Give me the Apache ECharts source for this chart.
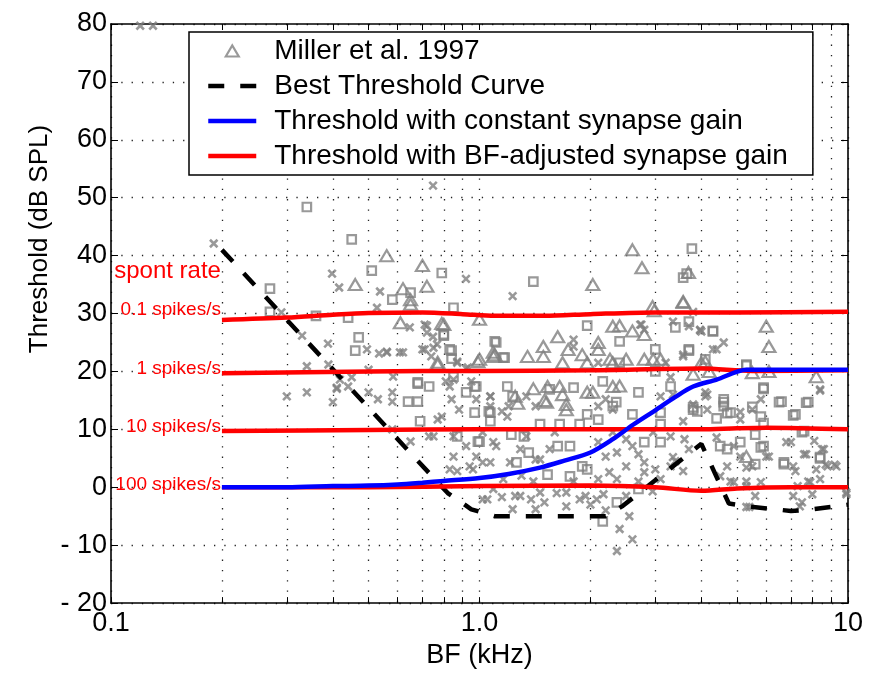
<!DOCTYPE html>
<html><head><meta charset="utf-8">
<script src="https://cdn.jsdelivr.net/npm/echarts@6/dist/echarts.min.js"></script>
<style>html,body{margin:0;padding:0;background:#fff}#c{width:874px;height:674px}</style>
</head><body><div id="c"></div>
<script>
// ---- data ----
const xTicks = [0.1,0.2,0.3,0.4,0.5,0.6,0.7,0.8,0.9,1,2,3,4,5,6,7,8,9,10];
const xLabels = [0.1,1,10];
const yTicks = [-20,-10,0,10,20,30,40,50,60,70,80];

const millerTriangles = [
[0.56,40.0],[0.70,38.3],[0.46,35.0],[0.62,34.3],[0.72,34.7],[0.65,32.4],[0.65,31.6],[0.61,28.4],[0.79,28.3],[1.0,29.0],[0.77,21.6],[0.99,21.7],[1.09,23.3],
[2.6,41.0],[2.76,37.9],[2.03,35.0],[3.57,32.1],[3.69,37.1],[0.8,28.1],[2.95,31.2],[2.98,30.5],[6.0,27.8],[6.1,24.3],[2.3,27.8],[2.4,27.9],[2.6,27.0],[2.8,26.4],[1.63,26.0],[1.49,24.3],[2.1,25.0],[2.1,23.8],[1.35,22.6],[1.49,22.6],[1.74,23.8],[1.9,22.9],[1.0,22.1],[1.09,22.6],[0.77,21.2],[1.68,21.5],[1.96,21.5],[2.3,21.5],[2.5,22.1],[2.8,22.1],[2.96,22.1],[4.0,21.5],[8.2,19.1],[5.5,19.8],[6.1,20.0],[3.8,19.5],
[1.53,17.4],[1.65,17.4],[1.4,17.0],[1.96,16.4],[1.72,14.3],[2.3,17.4],[2.4,17.5],[3.57,31.9],[1.1,22.9],[2.26,22.1],[3.1,22.1],[4.2,20.0],[5.3,5.3],[4.1,21.7],
[1.27,14.5],[1.5,15.0],[1.68,16.0],[1.52,14.7],[1.25,15.7],[1.72,13.4],[2.03,16.4]
];
const millerSquares = [
[0.34,48.4],[0.45,42.8],[0.51,37.4],[0.79,37.0],[0.27,34.3],[0.58,32.4],[0.65,33.6],[0.27,30.3],[0.36,29.6],[0.44,29.3],[0.85,31.0],[0.47,25.9],[0.46,23.6],[0.80,26.4],[0.84,23.6],[0.84,22.2],[1.1,25.2],[0.68,17.9],[0.73,17.4],[0.98,17.4],
[1.4,35.5],[3.77,41.2],[3.57,36.2],[3.65,36.9],[1.96,27.9],[0.8,26.2],[1.11,25.0],[1.17,22.4],[2.4,25.2],[3.4,27.6],[3.7,28.6],[4.3,27.0],[3.7,23.6],[4.1,22.1],[5.3,21.0],[5.9,17.0],[0.97,17.4],[2.16,18.3],[2.4,21.5],[3.0,23.8],
[0.97,12.9],[1.07,12.9],[1.07,11.4],[1.0,7.9],[1.22,9.1],[1.32,8.8],[1.36,6.0],[1.26,4.3],[1.46,10.9],[1.63,7.1],[1.76,7.1],[1.76,1.9],[1.53,2.2],[1.65,10.9],[1.87,10.9],[1.9,3.6],[1.96,3.1],[1.96,12.6],[2.1,11.7],[2.3,14.0],[2.6,12.6],[2.36,-2.6],[2.16,-5.9],[2.7,-0.3],[2.8,7.8],[3.1,7.8],[3.1,10.9],[3.8,13.8],[3.9,13.1],[3.1,12.9],
[5.9,17.2],[6.5,14.7],[7.2,12.6],[7.8,14.7],[4.6,14.7],[4.8,12.9],[5.8,12.2],[3.8,13.4],[5.1,7.8],[4.5,7.1],[4.7,6.6],[5.8,6.9],[6.7,4.0],[8.4,5.2],[5.6,9.1],[7.6,9.7],
[4.3,26.9],[3.7,23.8],[5.3,21.2],[6.6,14.8],[7.7,14.6],[7.1,12.4],[4.6,15.2],[4.6,14.0],[4.7,12.8],[5.5,13.9],[5.9,11.1],[4.4,11.9],[5.9,7.1],[7.5,9.5],[8.4,5.0],[6.7,4.3],[5.6,4.0],
[0.68,18.1],[0.64,14.8],[0.68,14.8],[0.69,11.4],[0.83,23.8],[0.85,19.1],[0.92,16.4],[1.06,13.1],[0.87,8.8],[0.99,7.9],
[1.55,16.9],[1.8,17.2],[1.19,17.4],[1.23,15.7],[2.7,16.4],[3.0,20.0],[3.3,17.4],[2.35,14.7],[1.16,22.4]
];
const millerCrosses = [
[0.12,79.7],[0.13,79.7],[0.19,42.1],[0.748,52.1],[0.398,36.9],[0.416,34.5],[0.537,33.8],[0.919,36.0],[0.527,31.0],[0.647,27.6],[0.71,28.1],[0.33,26.2],[0.388,24.8],[0.495,23.8],[0.534,23.1],[0.561,23.3],[0.608,23.3],[0.748,26.0],[0.767,24.7],[0.34,20.9],[0.389,21.2],[0.418,18.6],[0.34,16.4],[0.30,15.7],[0.583,19.1],[0.72,26.7],[0.75,24.1],[0.87,21.7],[0.92,20.5],[0.95,18.3],[0.41,17.0],[0.44,17.4],[0.50,16.4],[0.58,16.4],[0.81,18.3],[0.85,18.6],[0.29,30.2],
[1.23,33.0],[3.8,30.3],[3.97,27.1],[4.6,25.0],[4.4,23.8],[0.72,27.9],[0.62,23.3],[0.71,23.8],[0.74,22.6],[0.87,21.5],[0.93,20.7],[1.8,25.5],[1.8,24.3],[2.73,28.1],[2.8,27.2],[3.35,28.6],[3.2,21.5],[3.57,22.9],[8.4,16.9],[4.1,16.4],
[1.02,-2.1],[1.15,-1.7],[1.23,-3.8],[1.29,-1.5],[1.38,-2.1],[1.42,-3.8],[1.46,-0.9],[1.72,-3.3],[1.72,-0.9],[1.87,-2.1],[1.94,-1.5],[2.08,-2.1],[2.17,-1.2],[2.4,-7.2],[2.6,-9.0],[2.36,-11.0],[2.55,-5.0],[2.95,-0.7],[3.0,3.1],[3.3,3.6],[3.35,5.2],[3.7,6.6],[3.57,2.8],[3.3,8.8],[2.96,9.5],[2.8,4.3],[0.96,3.1],[1.07,4.3],[0.98,5.3],[1.16,1.4],[1.09,-0.3],[2.25,2.6],[2.36,1.4],[2.1,1.4],[2.2,5.3],[2.36,6.0],[2.5,3.6],[2.5,8.3],[2.3,9.5],[2.1,7.8],[2.6,7.1],[2.7,5.7],[3.6,8.3],[1.6,9.5],[1.55,6.6],[1.42,4.8],[1.29,6.6],[1.09,7.8],[1.02,9.5],[1.07,14.0],[1.2,14.0],
[4.1,15.7],[4.15,13.4],[3.57,11.4],[3.8,14.3],[5.1,11.7],[5.5,13.4],[5.8,15.2],[8.4,16.7],[4.4,8.6],[4.9,7.1],[5.1,5.3],[5.5,3.6],[6.0,5.3],[6.8,7.8],[7.7,5.7],[8.1,8.0],[8.5,6.6],[8.8,3.6],[9.3,3.6],[7.1,3.6],[7.3,0.2],[7.9,0.9],[7.4,-3.3],[8.4,1.4],[9.9,-1.2],[4.5,1.9],[4.9,0.9],[5.3,0.2],[5.6,-1.5],[5.4,-3.4],[4.7,3.6],[5.8,0.9],[3.4,4.5],[3.1,1.4],[2.8,2.6],
[4.0,26.9],[4.3,23.8],[4.15,16.0],[5.1,13.0],[7.0,7.8],[8.6,6.6],[7.6,5.7],[8.2,3.1],[8.7,3.9],[9.2,3.9],[7.2,2.8],[6.1,5.3],[5.3,3.4],[4.8,1.0],[5.3,1.0],[7.8,1.0],[7.1,-1.5],[7.5,-2.6],[8.0,-1.2],[9.9,-0.9],[5.3,-3.4],
[0.40,14.7],[0.41,17.2],[0.45,19.0],[0.50,20.3],[0.53,15.2],[0.58,14.8],[0.56,23.4],[0.65,7.9],[0.58,10.0],[0.73,8.8],[0.75,8.8],[0.79,12.2],[0.84,15.2],[0.88,13.4],[0.85,5.3],[0.87,2.8],[0.94,3.6],[1.02,4.3],[0.83,3.1],[1.05,-2.1],[0.77,11.7],[0.70,23.8],
[2.75,28.1],[3.97,27.2],[3.57,22.6],[3.3,19.0],[3.7,27.8],[2.1,21.5],[1.07,15.7],[1.15,13.1],[1.34,15.7],[1.42,14.0],[2.2,15.2],[2.3,13.4],[2.1,14.0],[3.35,16.0],[3.1,15.7],
[0.83,17.4],[0.98,15.2],[1.07,15.7],[1.19,12.2],[0.85,8.8],[0.92,7.1],[1.11,7.1],[1.21,4.3],[1.34,8.8],[1.46,4.8],[1.25,-1.5],[1.5,-2.6],[1.62,-1.0],[1.8,1.0],[1.3,2.0],[1.4,1.0],[2.0,-3.0],[2.2,-4.0],[2.5,-1.5],[2.7,1.0]
];

const bestThreshold = [[0.2,41],[0.82,-1],[0.95,-3.8],[1.1,-5],[2.2,-5],[2.45,-3.2],[4.0,7.5],[4.75,-2.8],[5.2,-3.2],[7.0,-4.1],[8.0,-3.8],[10,-3]];
const constGain = [[0.2,0],[0.3,0],[0.4,0.2],[0.5,0.3],[0.6,0.5],[0.7,0.8],[0.8,1.1],[1.0,1.6],[1.2,2.3],[1.46,3.4],[1.7,4.6],[2.0,6.0],[2.3,8.3],[2.61,10.8],[3.0,13.3],[3.4,15.6],[3.8,17.4],[4.4,18.6],[5.3,20.3],[6,20.3],[10,20.3]];
const bfGain01 = [[0.2,28.9],[0.3,29.3],[0.4,29.8],[0.5,30.1],[0.7,30.2],[0.9,29.9],[1.1,29.6],[1.5,29.6],[2.0,29.9],[3.0,30.2],[5,30.2],[10,30.3]];
const bfGain1 = [[0.2,19.7],[0.5,20.0],[1,20.1],[2,20.2],[4,20.5],[5.5,20.1],[10,20.2]];
const bfGain10 = [[0.2,9.7],[0.5,9.9],[1,10.0],[3,10.0],[4,10.0],[5,10.2],[6,10.3],[10,10.0]];
const bfGain100 = [[0.2,0],[0.5,0],[1,0.2],[2,0.3],[3,0],[4,-0.6],[5,-0.2],[7,0],[10,0]];

const spontTexts = ['0.1 spikes/s','1 spikes/s','10 spikes/s','100 spikes/s'];
const spontLabelY = [30.6, 20.5, 10.5, 0.4];
const spontTitle = 'spont rate';
const spontTitleY = 37.3;

// ---- chart ----
const FONT = "'Liberation Sans', Arial, Helvetica, sans-serif";
const GREY = '#7f7f7f';
const chart = echarts.init(document.getElementById('c'), null, {renderer:'canvas'});

function redLabel(i) {
  const d = [{coord:[0.2, spontLabelY[i]], label:{show:true, position:'left', distance:1, formatter:spontTexts[i], color:'#ff0000', fontSize:19, fontFamily:FONT}}];
  if (i === 0) d.push({coord:[0.2, spontTitleY], label:{show:true, position:'left', distance:1, formatter:spontTitle, color:'#ff0000', fontSize:24, fontFamily:FONT}});
  return {symbol:'circle', symbolSize:0.01, silent:true, itemStyle:{color:'transparent'}, data:d};
}
const redData = [bfGain01, bfGain1, bfGain10, bfGain100];
const RED_NAME = 'Threshold with BF-adjusted synapse gain';

const dotted = {color:'#222', width:1.3, type:[1.3,9]};
const series = [
  {name:'Miller et al. 1997 (x)', type:'scatter', data:millerCrosses, symbol:'path://M0,0L10,10M10,0L0,10', symbolSize:7.5,
   itemStyle:{color:'transparent', borderColor:GREY, borderWidth:2.6}, z:2},
  {name:'Miller et al. 1997 (sq)', type:'scatter', data:millerSquares, symbol:'rect', symbolSize:8.5,
   itemStyle:{color:'transparent', borderColor:GREY, borderWidth:2.2}, z:2},
  {name:'Miller et al. 1997', type:'scatter', data:millerTriangles, symbol:'triangle', symbolSize:[13,11], symbolKeepAspect:true,
   itemStyle:{color:'transparent', borderColor:GREY, borderWidth:2.2}, z:2},
  {name:'Best Threshold Curve', type:'line', data:bestThreshold, symbol:'none', showSymbol:false,
   lineStyle:{color:'#000', width:4.5, type:[16,16], cap:'butt'}, itemStyle:{color:'#000'}, z:3}
];
redData.forEach((d,i)=>series.push({name:RED_NAME, type:'line', data:d, symbol:'none', showSymbol:false, smooth:0.3,
  lineStyle:{color:'#ff0000', width:4.5}, itemStyle:{color:'#ff0000'}, z:4, markPoint:redLabel(i)}));
series.push({name:'Threshold with constant synapse gain', type:'line', data:constGain, symbol:'none', showSymbol:false, smooth:0.3,
  lineStyle:{color:'#0000ff', width:4.5}, itemStyle:{color:'#0000ff'}, z:5});

const hiddenSym = {opacity:0, borderWidth:0};
const axisLine = {show:true, onZero:false, lineStyle:{color:'#000', width:1.6}};
// legend triangle drawn inside a 48x12 box so that it keeps its shape
const legendTriangle = 'path://M0,0L0,0M48,12L48,12M17.5,11.5L24,0.5L30.5,11.5Z';
chart.setOption({
  animation:false,
  backgroundColor:'#fff',
  grid:{left:111, right:26, top:24, bottom:70, containLabel:false},
  xAxis:[
    {type:'log', logBase:10, min:0.1, max:10, position:'bottom',
     name:'BF (kHz)', nameLocation:'middle', nameGap:36,
     nameTextStyle:{fontSize:27, fontFamily:FONT, color:'#000'},
     axisLine:axisLine,
     axisTick:{show:true, inside:true, length:6, customValues:xTicks, lineStyle:{color:'#000', width:1}},
     axisLabel:{show:true, customValues:xLabels, margin:7, fontSize:27, fontFamily:FONT, color:'#000',
       formatter:v=>{const r=Math.round(v*10)/10; return r===1?'1.0':String(r);}},
     splitLine:{show:true, lineStyle:dotted}, minorTick:{show:false}},
    {type:'log', logBase:10, min:0.1, max:10, position:'top',
     axisLine:axisLine,
     axisTick:{show:true, inside:true, length:6, customValues:xTicks, lineStyle:{color:'#000', width:1}},
     axisLabel:{show:false}, splitLine:{show:false}}
  ],
  yAxis:[
    {type:'value', min:-20, max:80, interval:10, position:'left',
     axisLine:axisLine,
     axisTick:{show:true, inside:true, length:7, lineStyle:{color:'#000', width:1}},
     axisLabel:{margin:4, fontSize:27, fontFamily:FONT, color:'#000',
       formatter:v=>v<0?'- '+Math.abs(v):String(v)},
     splitLine:{show:true, lineStyle:dotted}},
    {type:'value', min:-20, max:80, interval:10, position:'right',
     axisLine:axisLine,
     axisTick:{show:true, inside:true, length:7, lineStyle:{color:'#000', width:1}},
     axisLabel:{show:false}, splitLine:{show:false}}
  ],
  legend:{
    orient:'vertical', left:189, top:32,
    data:[
      {name:'Miller et al. 1997', icon:legendTriangle, itemStyle:{color:'transparent', borderColor:GREY, borderWidth:2.2}},
      {name:'Best Threshold Curve', itemStyle:hiddenSym, lineStyle:{width:4.5, type:[16,16], color:'#000'}},
      {name:'Threshold with constant synapse gain', itemStyle:hiddenSym, lineStyle:{width:4.5, color:'#0000ff'}},
      {name:RED_NAME, itemStyle:hiddenSym, lineStyle:{width:4.5, color:'#ff0000'}}
    ],
    itemWidth:48, itemHeight:12, itemGap:7,
    padding:[5,25,5,17],
    borderColor:'#000', borderWidth:1.5, backgroundColor:'#fff',
    selectedMode:false,
    textStyle:{fontSize:28, fontFamily:FONT, color:'#000', lineHeight:28, padding:[0,0,0,13]}
  },
  graphic:[
    {type:'text', x:40, y:239, rotation:Math.PI/2,
     style:{text:'Threshold (dB SPL)', font:'26px '+FONT, fill:'#000', align:'center', verticalAlign:'middle'}}
  ],
  series:series
});
</script></body></html>
